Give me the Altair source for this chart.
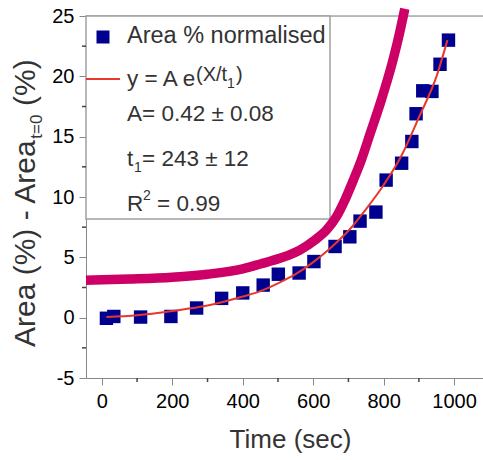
import altair as alt
import pandas as pd

# Measured area growth (normalised to t = 0)
time_s = [13, 34, 110, 196, 269, 340, 400, 458, 501, 560, 602, 662, 704,
          733, 778, 807, 851, 880, 892, 911, 937, 960, 984]
area_pct = [-0.05, 0.1, 0.05, 0.1, 0.8, 1.6, 2.05, 2.7, 3.6, 3.7, 4.65, 5.9,
            6.7, 8.0, 8.75, 11.4, 12.8, 14.6, 16.9, 18.8, 18.75, 21.0, 23.0]

# Exponential fit curve
fit_t = [13, 100, 200, 300, 400, 450, 500, 550, 600, 650, 700, 750, 800,
         850, 900, 950, 981]
fit_y = [0.05, 0.2, 0.55, 1.0, 1.75, 2.2, 2.85, 3.6, 4.6, 5.8, 7.2, 9.0,
         11.0, 13.4, 16.6, 20.0, 23.0]

# Hand-drawn guide curve
guide_t = [-45, 80, 200, 300, 400, 450, 505, 562, 605, 638, 666, 690, 714,
           737, 761, 794, 826, 846, 860]
guide_y = [3.1, 3.2, 3.35, 3.6, 4.05, 4.45, 4.92, 5.6, 6.44, 7.27, 8.37,
           9.75, 11.4, 13.1, 15.2, 18.1, 21.3, 23.7, 25.6]

x_ticks = [0, 200, 400, 600, 800, 1000]
x_minor = [100, 300, 500, 700, 900]
y_ticks = [-5, 0, 5, 10, 15, 20, 25]
y_minor = [-2.5, 2.5, 7.5, 12.5, 17.5, 22.5]

W, H = 397, 362
FONT = "Liberation Sans"
INK = "#333333"
AXIS = "#444444"

xs = alt.Scale(domain=[-45, 1082], nice=False, zero=False)
ys = alt.Scale(domain=[-5, 25], nice=False, zero=False)

pts = pd.DataFrame({"t": time_s, "a": area_pct})
fit = pd.DataFrame({"t": fit_t, "a": fit_y})
guide = pd.DataFrame({"t": guide_t, "a": guide_y})
one = pd.DataFrame({"k": [0]})

xaxis = alt.Axis(values=x_ticks, labelExpr="'' + datum.value", title="Time (sec)",
                 titleFontSize=26, titleFontWeight="normal", titleX=204,
                 titleY=69, titleBaseline="alphabetic", titleColor=INK,
                 labelFontSize=20, labelPadding=6, tickSize=7, grid=False)
yaxis = alt.Axis(values=y_ticks, labelExpr="'' + datum.value", title=None,
                 labelFontSize=20, labelPadding=5, tickSize=7, grid=False)


def label(txt, x, y, size=22.5, angle=None, align="left"):
    kw = dict(text=txt, fontSize=size, font=FONT, color=INK, align=align,
              baseline="alphabetic")
    if angle is not None:
        kw["angle"] = angle
    return alt.Chart(one).mark_text(**kw).encode(x=alt.value(x), y=alt.value(y))


frame_top = alt.Chart(one).mark_rule(color="#aaaaaa", strokeWidth=1.5).encode(
    x=alt.value(0), x2=alt.value(W), y=alt.value(0))

legend_box = alt.Chart(one).mark_rect(
    fill="white", stroke="#a0a0a0", strokeWidth=1.5).encode(
    x=alt.value(0), x2=alt.value(244), y=alt.value(0), y2=alt.value(203))

guide_line = alt.Chart(guide).mark_line(
    color="#cc0066", strokeWidth=9.5, interpolate="monotone", clip=False,
    strokeCap="butt").encode(
    x=alt.X("t:Q", scale=xs, axis=xaxis),
    y=alt.Y("a:Q", scale=ys, axis=yaxis))

squares = alt.Chart(pts).mark_square(size=180, color="#00008f", opacity=1).encode(
    x=alt.X("t:Q", scale=xs), y=alt.Y("a:Q", scale=ys))

fit_line = alt.Chart(fit).mark_line(
    color="#e8372e", strokeWidth=2, interpolate="monotone").encode(
    x=alt.X("t:Q", scale=xs), y=alt.Y("a:Q", scale=ys))

x_minor_ticks = alt.Chart(pd.DataFrame({"t": x_minor})).mark_rule(
    color=AXIS, strokeWidth=1.5).encode(
    x=alt.X("t:Q", scale=xs), y=alt.value(H), y2=alt.value(H + 4))

y_minor_ticks = alt.Chart(pd.DataFrame({"a": y_minor})).mark_rule(
    color=AXIS, strokeWidth=1.5).encode(
    y=alt.Y("a:Q", scale=ys), x=alt.value(-4), x2=alt.value(0))

# Legend entries
leg_square = alt.Chart(one).mark_square(size=169, color="#00008f", opacity=1).encode(
    x=alt.value(17), y=alt.value(21))
leg_rule = alt.Chart(one).mark_rule(color="#e8372e", strokeWidth=2).encode(
    x=alt.value(0), x2=alt.value(34), y=alt.value(63))

legend_text = [
    label("Area % normalised", 41, 27, 23.5),
    label("y = A e", 41, 70),
    label("(X/t", 110, 65, 20),
    label("1", 141, 72, 14),
    label(")", 150, 65, 20),
    label("A= 0.42 \u00b1 0.08", 41, 105),
    label("t", 41, 150),
    label("1", 48, 156, 14),
    label("= 243 \u00b1 12", 56, 150),
    label("R", 41, 195),
    label("2", 57, 184, 14),
    label("= 0.99", 71, 195),
]

# Y axis title with subscript, drawn bottom-to-top
y_title = [
    label("Area (%) - Area", -51, 331, 30, angle=270),
    label("t=0", -44, 122.7, 17, angle=270),
    label("(%)", -51, 90, 30, angle=270),
]

chart = alt.layer(
    frame_top, legend_box, guide_line, squares, fit_line,
    x_minor_ticks, y_minor_ticks, leg_square, leg_rule,
    *legend_text, *y_title
).properties(
    width=W, height=H,
    autosize=alt.AutoSizeParams(type="none"),
    padding={"left": 86, "top": 16, "right": 0, "bottom": 82},
).configure_view(
    stroke=None
).configure_axis(
    labelFont=FONT, titleFont=FONT, labelColor=INK,
    domainColor=AXIS, domainWidth=2, tickColor=AXIS, tickWidth=1.5,
).configure(background="white")

chart.save("out.html", embed_options={"renderer": "svg", "actions": False})
